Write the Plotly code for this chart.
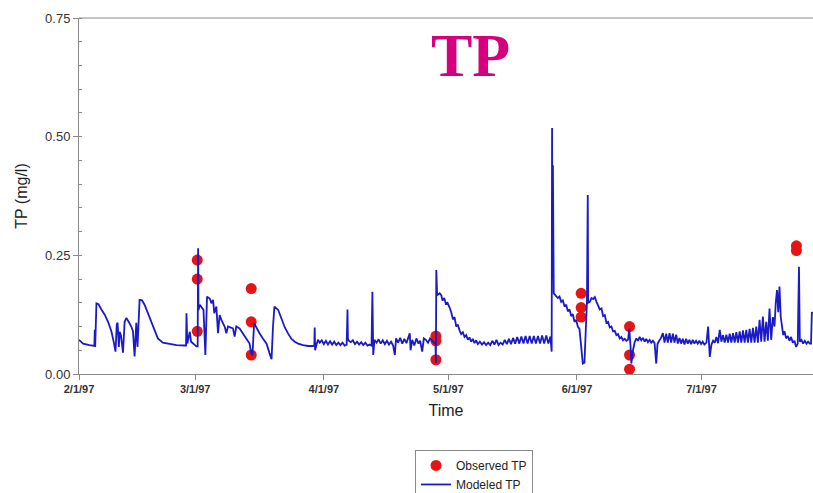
import pandas as pd
import plotly.graph_objects as go

# Observed total phosphorus samples (mg/l)
obs_dates = [
    "1997-03-01 12:00", "1997-03-01 12:00", "1997-03-01 12:00",
    "1997-03-14 12:00", "1997-03-14 12:00", "1997-03-14 12:00",
    "1997-04-28 00:00", "1997-04-28 00:00", "1997-04-28 00:00",
    "1997-06-02 00:00", "1997-06-02 00:00", "1997-06-02 00:00",
    "1997-06-13 16:00", "1997-06-13 16:00", "1997-06-13 16:00",
    "1997-07-23 21:00", "1997-07-23 21:00",
]
obs_tp = [
    0.24, 0.20, 0.09,
    0.18, 0.11, 0.04,
    0.08, 0.07, 0.03,
    0.17, 0.14, 0.12,
    0.10, 0.04, 0.01,
    0.27, 0.26,
]

# Modeled TP: elapsed days since 2/1/97 and simulated concentration (mg/l)
model_day = [
    0.0, 1.0, 2.5, 3.7, 3.8, 3.9, 4.2, 4.7, 5.4, 6.2, 7.0, 7.8, 8.4, 8.8,
    9.1, 9.3, 9.6, 9.8, 10.1, 10.6, 11.0, 11.4, 11.9, 12.6, 13.0, 13.4, 13.8,
    14.1, 14.6, 15.2, 15.8, 16.6, 17.4, 18.2, 19.0, 20.2, 21.9, 23.5, 25.5,
    25.8, 25.9, 26.1, 26.7, 27.0, 28.3, 28.6, 28.7, 28.8, 29.1, 29.5, 30.0,
    30.45, 30.85, 31.5, 31.9, 32.3, 32.6, 33.1, 33.5, 33.9, 34.3, 35.1, 35.5,
    35.9, 37.1, 37.5, 37.9, 38.7, 39.5, 40.3, 41.1, 41.5, 41.8, 42.2, 42.6,
    43.1, 43.5, 44.3, 45.2, 45.9, 46.4, 46.75, 47.1, 48.0, 48.8, 49.6, 50.4,
    51.2, 52.0, 52.8, 54.0, 55.2, 56.4, 56.7, 56.8, 56.9, 57.3,
    57.6, 58.0, 58.5, 59.0, 59.5, 60.0, 60.5, 61.0, 61.5, 62.0, 62.5, 63.0,
    63.5, 64.0, 64.5, 64.7, 64.8,
    65.0, 65.5, 66.0, 66.5, 67.0, 67.5, 68.0, 68.5, 69.0, 69.5, 70.0, 70.5,
    70.7, 70.9,
    71.2, 71.7, 72.2, 72.7, 73.2, 73.7, 74.2, 74.7, 75.2, 75.7, 76.1, 76.4,
    76.9, 77.4, 77.9, 78.4, 78.9, 79.4, 79.7, 79.9, 80.3, 80.8, 81.3, 81.8,
    82.2, 82.7, 83.1, 83.6, 84.1, 84.6, 85.1, 85.6, 85.9, 86.0, 86.1, 86.3,
    86.9, 87.3, 87.6, 88.0, 88.4, 88.8, 89.3, 89.7, 90.1, 90.5, 90.9, 91.3,
    91.7, 92.1, 92.5, 92.9, 93.3, 93.7, 94.1, 94.5, 94.9, 95.3, 95.7, 96.1,
    96.6, 97.1, 97.6, 98.1, 98.6, 99.1, 99.6, 100.1, 100.6, 101.1, 101.6,
    102.1, 102.6, 103.1, 103.6, 104.1, 104.6, 105.1, 105.6, 106.1, 106.6,
    107.1, 107.6, 108.1, 108.6, 109.1, 109.6, 110.1, 110.6, 111.1, 111.6,
    112.1, 112.6, 113.1, 113.6, 113.9,
    114.0, 114.1, 114.2, 114.4,
    115.0, 115.4, 115.8, 116.2, 116.6, 117.0, 117.4, 117.8, 118.2, 118.6,
    119.0, 119.4, 119.8, 120.2, 120.6, 121.0, 121.4, 121.8, 122.2, 122.4,
    122.6, 122.7, 123.1, 123.5, 123.9, 124.3, 124.7, 125.1, 125.5, 125.9,
    126.3, 126.7, 127.1, 127.5, 127.9, 128.3, 128.7, 129.1, 129.5, 129.9,
    130.3, 130.7, 131.1, 131.5, 131.9, 132.3, 132.6, 132.9, 133.1, 133.5,
    133.9, 134.3, 134.7, 135.1, 135.5, 135.9, 136.3, 136.7, 137.1, 137.5,
    137.9, 138.3, 138.7, 139.1, 139.4, 139.8, 140.2, 140.7, 141.1, 141.5,
    141.9, 142.3, 142.7, 143.1, 143.5, 143.9, 144.3, 144.7, 145.1, 145.5,
    145.9, 146.3, 146.7, 147.1, 147.5, 147.9, 148.3, 148.7, 149.1, 149.5,
    149.9, 150.3, 150.7, 151.2, 151.6, 152.0, 152.4, 152.8, 153.2, 153.6,
    154.0, 154.4, 154.8, 155.2, 155.6, 156.0, 156.4, 156.8, 157.2, 157.6,
    158.0, 158.4, 158.8, 159.2, 159.6, 160.0, 160.4, 160.8, 161.2, 161.6,
    162.0, 162.4, 162.8, 163.2, 163.6, 164.0, 164.4, 164.8, 165.2, 165.6,
    166.0, 166.4, 166.8, 167.2, 167.6, 167.9, 168.2, 168.5, 168.8, 169.1,
    169.4, 169.7, 170.0, 170.4, 170.8, 171.2, 171.6, 172.0, 172.4, 172.8,
    173.2, 173.5, 173.7, 174.1, 174.5, 174.9, 175.3, 175.7, 176.1, 176.4,
    176.6, 176.9,
]
model_tp = [
    0.072, 0.064, 0.061, 0.059, 0.093, 0.057, 0.149, 0.147, 0.136, 0.125,
    0.110, 0.090, 0.066, 0.047,
    0.105, 0.108, 0.057, 0.089, 0.082, 0.045, 0.110, 0.118, 0.111, 0.100,
    0.090, 0.037, 0.108,
    0.057, 0.156, 0.155, 0.146, 0.128, 0.107, 0.089, 0.075, 0.066, 0.063,
    0.061, 0.060,
    0.060, 0.128, 0.064, 0.089, 0.068, 0.058, 0.058, 0.265, 0.135, 0.146,
    0.142, 0.135,
    0.040, 0.163, 0.159, 0.149, 0.156, 0.128, 0.142, 0.086, 0.124, 0.114,
    0.100, 0.086,
    0.100, 0.096, 0.079, 0.100, 0.096, 0.086, 0.075, 0.064, 0.044, 0.040,
    0.107, 0.100,
    0.093, 0.086, 0.075, 0.064, 0.044, 0.031, 0.100, 0.142, 0.135, 0.116,
    0.098, 0.085,
    0.074, 0.068, 0.064, 0.061, 0.059, 0.059, 0.060, 0.098, 0.050, 0.064,
    0.072, 0.066, 0.071, 0.063, 0.070, 0.062, 0.069, 0.062, 0.068, 0.061,
    0.066, 0.061,
    0.066, 0.060, 0.062, 0.136, 0.075,
    0.070, 0.067, 0.071, 0.063, 0.068, 0.062, 0.067, 0.061, 0.066, 0.060,
    0.062, 0.060,
    0.173, 0.040,
    0.072, 0.066, 0.073, 0.064, 0.071, 0.063, 0.070, 0.062, 0.068, 0.060,
    0.040, 0.075,
    0.066, 0.076, 0.064, 0.074, 0.065, 0.079, 0.086, 0.050, 0.072, 0.060,
    0.075, 0.064,
    0.070, 0.047, 0.075, 0.072, 0.066, 0.075, 0.070, 0.065, 0.065, 0.023,
    0.219, 0.166,
    0.170, 0.166, 0.155, 0.160, 0.148, 0.150, 0.140, 0.130, 0.115, 0.120,
    0.100, 0.104,
    0.092, 0.084, 0.088, 0.078, 0.082, 0.072, 0.077, 0.068, 0.074, 0.065,
    0.071, 0.063,
    0.068, 0.062, 0.067, 0.061, 0.066, 0.061, 0.070, 0.062, 0.072, 0.061,
    0.066,
    0.062, 0.072, 0.063, 0.074, 0.063, 0.076, 0.064, 0.078, 0.064, 0.079,
    0.064, 0.080, 0.064, 0.080, 0.064, 0.080, 0.064, 0.080, 0.064, 0.081,
    0.064, 0.081, 0.064, 0.079, 0.047,
    0.518, 0.200, 0.440, 0.170,
    0.165, 0.160, 0.163, 0.152, 0.155, 0.142, 0.146, 0.132, 0.136, 0.122,
    0.126, 0.110, 0.114, 0.100, 0.095, 0.060, 0.022, 0.024, 0.100, 0.152,
    0.377, 0.150, 0.152, 0.160, 0.158, 0.162, 0.152, 0.145, 0.136, 0.138,
    0.122, 0.124, 0.108, 0.110, 0.098, 0.100, 0.090, 0.091, 0.082, 0.084,
    0.075, 0.078, 0.071, 0.074, 0.070, 0.072, 0.095, 0.060, 0.022, 0.050,
    0.067, 0.075, 0.070, 0.078, 0.071, 0.076, 0.068, 0.074, 0.067, 0.072,
    0.066, 0.070, 0.065, 0.022, 0.063, 0.070, 0.075, 0.086, 0.066, 0.085,
    0.066, 0.086, 0.066, 0.085, 0.066, 0.083, 0.064, 0.076, 0.064, 0.074,
    0.062, 0.074, 0.064, 0.072, 0.063, 0.072, 0.064, 0.070, 0.064, 0.070,
    0.063, 0.068, 0.062, 0.066, 0.100, 0.036, 0.062, 0.070, 0.066, 0.078,
    0.065, 0.093, 0.068, 0.082, 0.066, 0.083, 0.066, 0.085, 0.066, 0.086,
    0.066, 0.088, 0.066, 0.090, 0.066, 0.092, 0.066, 0.093, 0.066, 0.095,
    0.066, 0.097, 0.066, 0.100, 0.066, 0.114, 0.068, 0.121, 0.068, 0.110,
    0.070, 0.138, 0.072, 0.120, 0.100, 0.150, 0.177, 0.130, 0.184, 0.120,
    0.095, 0.082, 0.090, 0.075, 0.080, 0.070, 0.078, 0.066, 0.070, 0.057,
    0.064, 0.226, 0.068, 0.072, 0.064, 0.070, 0.064, 0.068, 0.064, 0.064,
    0.130, 0.128,
]

# Axis tick positions and labels
x_tick_dates = ["1997-02-01", "1997-03-01", "1997-04-01",
                "1997-05-01", "1997-06-01", "1997-07-01"]
x_tick_text = ["2/1/97", "3/1/97", "4/1/97", "5/1/97", "6/1/97", "7/1/97"]
y_tick_vals = [0.00, 0.25, 0.50, 0.75]

start = pd.Timestamp("1997-02-01")
model_time = start + pd.to_timedelta(model_day, unit="D")

AXIS_GRAY = "#8a8a8a"
SANS = "Liberation Sans, Arial, sans-serif"

fig = go.Figure()

fig.add_trace(go.Scatter(
    x=pd.to_datetime(obs_dates), y=obs_tp,
    mode="markers", name="Observed TP",
    marker=dict(color="#E61414", size=11, line=dict(width=0)),
))

fig.add_trace(go.Scatter(
    x=model_time, y=model_tp,
    mode="lines", name="Modeled TP",
    line=dict(color="#1A1AC8", width=1.8),
))

fig.update_layout(
    width=813, height=493,
    margin=dict(l=79, r=0, t=18, b=119, autoexpand=False),
    paper_bgcolor="white", plot_bgcolor="white",
    font=dict(family=SANS, color="#222222"),
    showlegend=True,
    legend=dict(
        x=0.4578, y=-0.2134, xanchor="left", yanchor="top",
        bordercolor=AXIS_GRAY, borderwidth=1, bgcolor="white",
        font=dict(family=SANS, size=12, color="#222222"),
        tracegroupgap=0, itemwidth=30, entrywidth=90,
    ),
    xaxis=dict(
        type="date", automargin=False,
        range=["1997-02-01", "1997-07-27 21:00"],
        tickvals=pd.to_datetime(x_tick_dates), ticktext=x_tick_text,
        ticks="outside", ticklen=5, tickcolor=AXIS_GRAY, tickwidth=1,
        showline=True, linecolor=AXIS_GRAY, linewidth=1,
        showgrid=False, zeroline=False,
        tickfont=dict(family=SANS, size=11, color="#333333", weight="bold"),
        title=dict(text="Time", font=dict(family=SANS, size=16, color="#222222"),
                   standoff=10),
    ),
    yaxis=dict(
        range=[0, 0.75], automargin=False,
        tickvals=y_tick_vals, tickformat=".2f",
        ticks="outside", ticklen=5, tickcolor=AXIS_GRAY, tickwidth=1,
        minor=dict(dtick=0.05, tick0=0, ticks="inside", ticklen=3,
                   tickcolor=AXIS_GRAY, showgrid=False),
        showline=True, linecolor=AXIS_GRAY, linewidth=1,
        showgrid=False, zeroline=False,
        tickfont=dict(family=SANS, size=13, color="#333333"),
        title=dict(text="TP (mg/l)", font=dict(family=SANS, size=16, color="#222222"),
                   standoff=13),
    ),
    shapes=[dict(type="line", xref="paper", yref="paper", x0=0, x1=1, y0=1, y1=1,
                 line=dict(color=AXIS_GRAY, width=1))],
    annotations=[dict(
        text="<b>TP</b>", xref="paper", yref="paper", x=0.534, y=0.896,
        xanchor="center", yanchor="middle", showarrow=False,
        font=dict(family="Liberation Serif, Times New Roman, serif", size=62,
                  color="#D6007F"),
    )],
)

fig.write_html("out.html")
